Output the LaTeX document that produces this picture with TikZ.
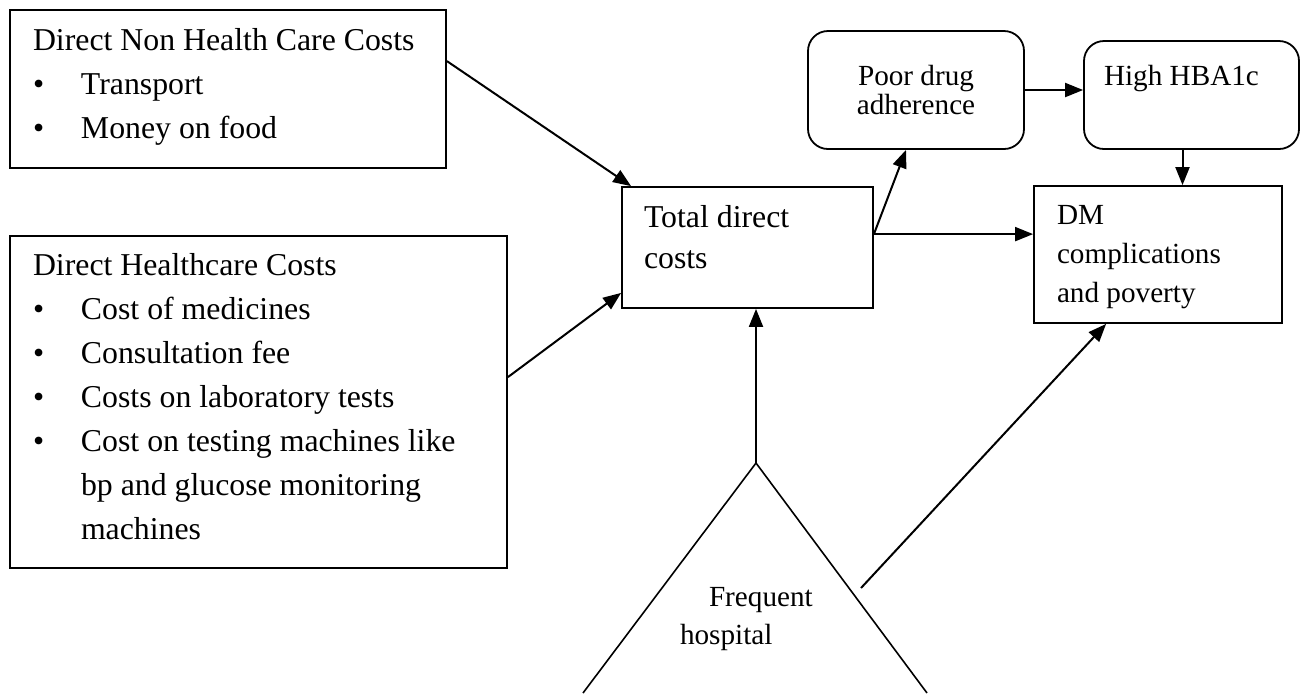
\documentclass[tikz,border=0pt]{standalone}
\usepackage{fontspec}
\setmainfont{Liberation Serif}
\usepackage{tikz}
\usetikzlibrary{arrows.meta, fit}

\newcommand{\itm}[1]{\makebox[24pt][l]{\textbullet}#1}

\begin{document}
\begin{tikzpicture}[x=0.5pt, y=-0.5pt, line width=1pt, >={Triangle[length=9pt, width=7pt]},
    cost box/.style={draw, rectangle, inner sep=0pt, line width=0.9pt},
    round box/.style={cost box, rounded corners=10pt},
    main text/.style={inner sep=0pt, align=left, font=\fontsize{15.9pt}{22pt}\selectfont},
    small text/.style={inner sep=0pt, font=\fontsize{14.6pt}{14.5pt}\selectfont}]

			\useasboundingbox (0,0) rectangle (1305,693);

			% cost boxes
			\node[cost box, fit={(10,10) (446,168)}] (nonhc) {};
			\node[cost box, fit={(10,236) (507,568)}] (hc) {};
			\node[cost box, fit={(622,187) (873,308)}] (total) {};
			\node[round box, fit={(808,31) (1024,149)}] (poor) {};
			\node[round box, fit={(1084,41) (1299,149)}] (hba) {};
			\node[cost box, fit={(1034,186) (1282,323)}] (dm) {};

			% texts (placed by the baseline of their last line)
			\node[main text, anchor=base west] (nonhc text) at (32,138) {Direct Non Health Care Costs\\ \itm{Transport}\\ \itm{Money on food}};
			\node[main text, anchor=base west] (hc text) at (32,539) {Direct Healthcare Costs\\ \itm{Cost of medicines}\\ \itm{Consultation fee}\\ \itm{Costs on laboratory tests}\\ \itm{Cost on testing machines like}\\ \hspace*{24pt}bp and glucose monitoring\\ \hspace*{24pt}machines};
			\node[main text, font=\fontsize{15.9pt}{20.5pt}\selectfont, anchor=base west] (total text) at (643,268) {Total direct\\costs};
			\node[small text, align=left, font=\fontsize{14.6pt}{19.5pt}\selectfont, anchor=base west] (dm text) at (1056,302) {DM\\complications\\and poverty};
			\node[small text, align=center, anchor=base] (poor text) at (916,114) {Poor drug\\adherence};
			\node[small text, anchor=base west] (hba text) at (1103,85) {High HBA1c};

			% hospital triangle
			\coordinate (apex) at (756,463);
			\draw[line width=0.8pt] (583,693) -- (apex) -- (927,693);
			\node[small text, align=left, font=\fontsize{14.6pt}{19pt}\selectfont, anchor=base west] (freq) at (679,644) {\hspace*{14.5pt}Frequent\\hospital};
			\coordinate (visits) at (861,588);

			% arrows
			\coordinate (split) at ([yshift=-24pt]total.north east);
			\draw[->] ([yshift=-26pt]nonhc.north east) -- ([xshift=5pt]total.north west);
			\draw[->] ([yshift=-71pt]hc.north east) -- ([yshift=8pt]total.south west);
			\draw[->] (split) -- ([xshift=-5pt]poor.south);
			\draw[->] (split) -- (split -| dm.west);
			\draw[->] (poor.east) -- (poor.east -| hba.west);
			\draw[->] ([xshift=-4.5pt]hba.south) -- ([xshift=-4.5pt]hba.south |- dm.north);
			\draw[->] (apex) -- (apex |- total.south);
			\draw[->] (visits) -- ([xshift=36.5pt]dm.south west);

		\end{tikzpicture}
\end{document}
